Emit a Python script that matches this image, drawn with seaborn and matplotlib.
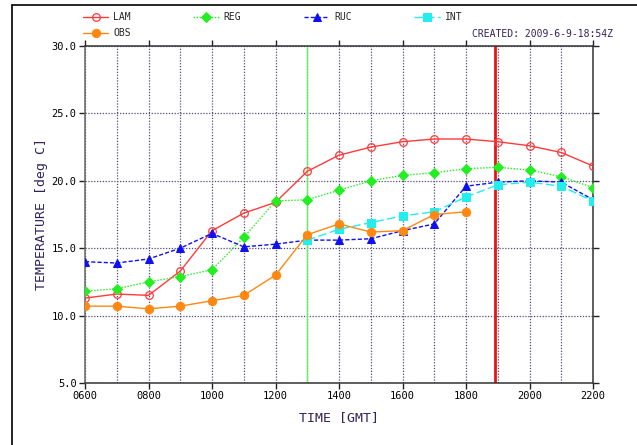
import matplotlib
matplotlib.use("Agg")
import matplotlib.pyplot as plt
import seaborn as sns
from matplotlib.lines import Line2D
from matplotlib.ticker import MultipleLocator, FixedLocator

# ---- data ----
hours = [6, 7, 8, 9, 10, 11, 12, 13, 14, 15, 16, 17, 18, 19, 20, 21, 22]
lam = [11.3, 11.6, 11.5, 13.3, 16.3, 17.6, 18.4, 20.7, 21.9, 22.5, 22.9, 23.1, 23.1, 22.9, 22.6, 22.1, 21.1]
reg = [11.8, 12.0, 12.5, 12.9, 13.4, 15.8, 18.5, 18.6, 19.3, 20.0, 20.4, 20.6, 20.9, 21.0, 20.8, 20.3, 19.5]
ruc = [14.0, 13.9, 14.2, 15.0, 16.1, 15.1, 15.3, 15.6, 15.6, 15.7, 16.3, 16.8, 19.6, 19.9, 20.0, 19.9, 18.6]
int_hours = [13, 14, 15, 16, 17, 18, 19, 20, 21, 22]
int_vals = [15.6, 16.4, 16.9, 17.4, 17.7, 18.8, 19.7, 19.9, 19.6, 18.5]
obs_hours = [6, 7, 8, 9, 10, 11, 12, 13, 14, 15, 16, 17, 18]
obs = [10.7, 10.7, 10.5, 10.7, 11.1, 11.5, 13.0, 16.0, 16.8, 16.2, 16.3, 17.5, 17.7]
xtick_labels = ["0600", "0800", "1000", "1200", "1400", "1600", "1800", "2000", "2200"]
ytick_vals = [5.0, 10.0, 15.0, 20.0, 25.0, 30.0]
init_hour = 13.0
now_hour = 18.9
created_text = "CREATED: 2009-6-9-18:54Z"

sns.set_theme(style="white")
plt.rcParams['font.family'] = ['DejaVu Sans Mono', 'DejaVu Sans']

W, H = 637, 445
fig = plt.figure(figsize=(W / 100, H / 100), dpi=100)
ax = fig.add_axes([85 / W, 1 - 383 / H, (593 - 85) / W, (383 - 46) / H])

purple = "#33225a"
gridc = "#564a78"

# vertical reference lines
ax.axvline(init_hour, color="#66ee66", lw=1.0, zorder=2)
ax.axvline(now_hour, color="#ee1111", lw=2.0, zorder=2)

ms = 5.5
sns.lineplot(x=hours, y=lam, ax=ax, color="#ff3a3a", lw=1.0, marker="o", markersize=ms,
             markerfacecolor="none", markeredgecolor="#ff3a3a", markeredgewidth=0.9,
             label="LAM", estimator=None, zorder=4)
sns.lineplot(x=hours, y=reg, ax=ax, color="#22ee22", lw=1.0, linestyle=(0, (1, 1.2)), marker="D",
             markersize=ms - 0.8, markeredgecolor="#22ee22", markerfacecolor="#22ee22",
             label="REG", estimator=None, zorder=4)
sns.lineplot(x=hours, y=ruc, ax=ax, color="#1010ee", lw=1.0, linestyle=(0, (3, 1.5)), marker="^",
             markersize=ms + 0.5, markeredgecolor="#1010ee", markerfacecolor="#1010ee",
             label="RUC", estimator=None, zorder=4)
sns.lineplot(x=int_hours, y=int_vals, ax=ax, color="#22eeee", lw=1.0, linestyle=(0, (6, 2.5)), marker="s",
             markersize=ms, markeredgecolor="#22eeee", markerfacecolor="#22eeee",
             label="INT", estimator=None, zorder=4)
sns.lineplot(x=obs_hours, y=obs, ax=ax, color="#ff8811", lw=1.0, marker="o", markersize=ms + 0.5,
             markeredgecolor="#ff8811", markerfacecolor="#ff8811",
             label="OBS", estimator=None, zorder=4)

ax.set_xlim(6, 22)
ax.set_ylim(5, 30)
ax.xaxis.set_minor_locator(MultipleLocator(1))
ax.xaxis.set_major_locator(FixedLocator(list(range(6, 23, 2))))
ax.set_xticklabels(xtick_labels)
ax.yaxis.set_major_locator(FixedLocator(ytick_vals))
ax.set_yticklabels([f"{v:.1f}" for v in ytick_vals])

ax.grid(True, which="both", axis="x", color=gridc, lw=0.9, linestyle=(0, (1, 1.3)))
ax.grid(True, which="major", axis="y", color=gridc, lw=0.9, linestyle=(0, (1, 1.3)))
ax.set_axisbelow(True)

ax.tick_params(axis="both", which="major", direction="out", length=4, width=1.0,
               top=True, right=True, bottom=True, left=True, labelsize=7.5,
               labelcolor="black", color="#222222", pad=2)
ax.tick_params(axis="both", which="minor", length=0)
for s in ax.spines.values():
    s.set_visible(True)
    s.set_color("#333333")
    s.set_linewidth(1.1)
ax.spines["left"].set_color("#666666")

ax.set_xlabel("TIME [GMT]", fontsize=9.5, color=purple, labelpad=7)
ax.set_ylabel("TEMPERATURE [deg C]", fontsize=9.5, color=purple, labelpad=3)

# legend
handles, labels = ax.get_legend_handles_labels()
hmap = dict(zip(labels, handles))
order = ["LAM", "OBS", "REG", "RUC", "INT"]
if ax.get_legend():
    ax.get_legend().remove()
fig.legend([hmap[k] for k in order], order, loc="upper left",
           bbox_to_anchor=(83 / W, 1 - 12 / H), ncol=4, frameon=False,
           fontsize=7, handlelength=2.6, handletextpad=0.5,
           columnspacing=6.45, labelspacing=0.65, borderaxespad=0, borderpad=0)

fig.text(613 / W, 1 - 34 / H, created_text, ha="right", va="center",
         fontsize=7, color=purple)

# outer frame
fig.add_artist(Line2D([11.5 / W, 11.5 / W], [0, 1 - 5 / H], color="black", lw=1.2,
                      transform=fig.transFigure))
fig.add_artist(Line2D([11.5 / W, 1], [1 - 5 / H, 1 - 5 / H], color="black", lw=1.2,
                      transform=fig.transFigure))

fig.savefig("out.png", dpi=100)
